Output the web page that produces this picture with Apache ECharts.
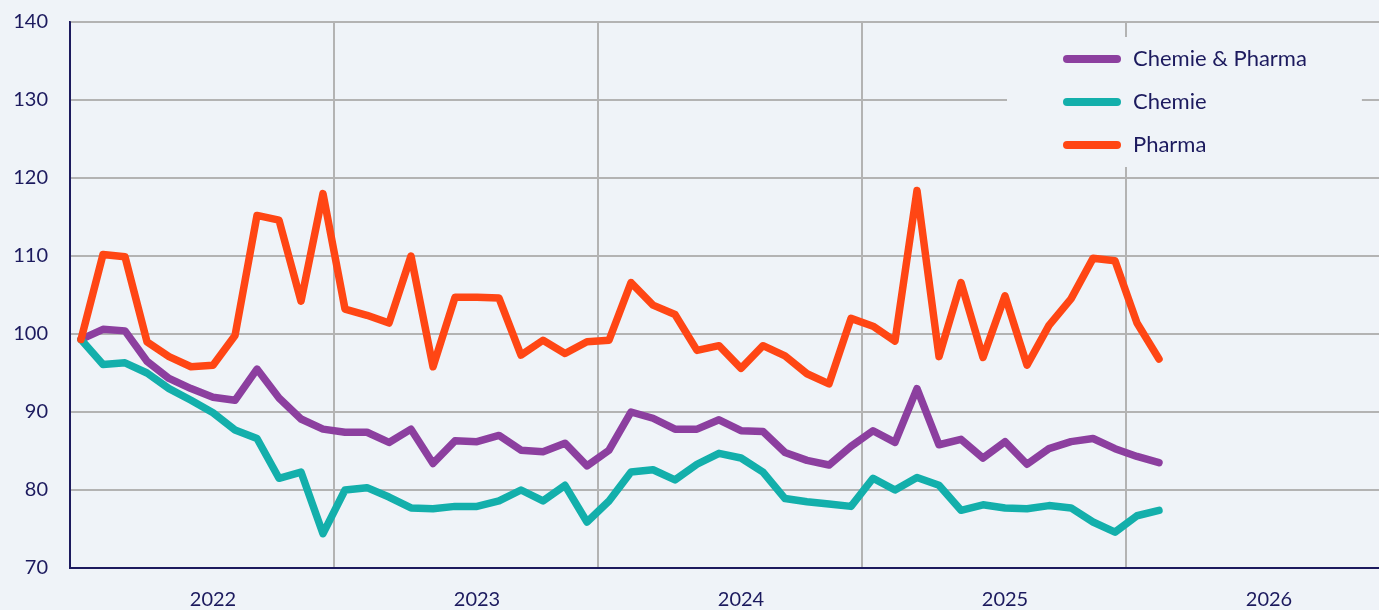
<!DOCTYPE html>
<html>
<head>
<meta charset="utf-8">
<script src="https://cdn.jsdelivr.net/npm/echarts@6/dist/echarts.min.js"></script>
<style>
  html, body { margin: 0; padding: 0; background: #eff3f8; overflow: hidden; }
  #chart { width: 1392px; height: 610px; }
</style>
</head>
<body>
<div id="chart"></div>
<script>
// monthly categories Jan 2022 .. Dec 2026
const months = []
for (let y = 2022; y <= 2026; y++) {
  for (let m = 1; m <= 12; m++) months.push(y + '-' + (m < 10 ? '0' + m : m))
}

const chemiePharma = [
  99.3, 100.6, 100.4, 96.5, 94.3, 93.0, 91.9, 91.5, 95.5, 91.8, 89.1, 87.8,
  87.4, 87.4, 86.1, 87.8, 83.4, 86.3, 86.2, 87.0, 85.1, 84.9, 86.0, 83.1,
  85.1, 90.0, 89.2, 87.8, 87.8, 89.0, 87.6, 87.5, 84.8, 83.8, 83.2, 85.6,
  87.6, 86.1, 93.0, 85.8, 86.5, 84.1, 86.2, 83.3, 85.3, 86.2, 86.6, 85.3,
  84.3, 83.5
]
const chemie = [
  99.3, 96.1, 96.3, 95.0, 93.0, 91.5, 89.9, 87.7, 86.6, 81.5, 82.3, 74.4,
  80.0, 80.3, 79.1, 77.7, 77.6, 77.9, 77.9, 78.6, 80.0, 78.6, 80.6, 75.9,
  78.6, 82.3, 82.6, 81.3, 83.3, 84.7, 84.1, 82.3, 78.9, 78.5, 78.2, 77.9,
  81.5, 80.0, 81.6, 80.6, 77.4, 78.1, 77.7, 77.6, 78.0, 77.7, 75.9, 74.6,
  76.7, 77.4
]
const pharma = [
  99.3, 110.2, 109.9, 99.0, 97.1, 95.8, 96.0, 99.8, 115.2, 114.6, 104.2, 118.0,
  103.2, 102.4, 101.4, 110.0, 95.8, 104.7, 104.7, 104.6, 97.3, 99.2, 97.5, 99.0,
  99.2, 106.6, 103.7, 102.5, 97.9, 98.5, 95.6, 98.5, 97.2, 94.9, 93.6, 102.0,
  101.0, 99.1, 118.4, 97.1, 106.6, 97.0, 104.9, 96.0, 101.1, 104.5, 109.7, 109.4,
  101.4, 96.8
]

const navy = '#1c1a5e'
const gridGrey = '#b3b3b3'
const bg = '#eff3f8'
const font = 'Lato'

function lineIcon() {
  return 'path://M4,0 L54,0 A4,4 0 0 1 54,8 L4,8 A4,4 0 0 1 4,0 Z'
}

function makeSeries(name, data, color) {
  return {
    name: name,
    type: 'line',
    data: data,
    symbol: 'none',
    smooth: false,
    color: color,
    lineStyle: { width: 7.5, color: color, cap: 'round', join: 'round' }
  }
}

const chart = echarts.init(document.getElementById('chart'))
chart.setOption({
  backgroundColor: bg,
  animation: false,
  textStyle: { fontFamily: font },
  grid: {
    left: 70, top: 22, width: 1320, height: 546,
    show: true, borderColor: navy, borderWidth: 2, backgroundColor: bg
  },
  legend: {
    left: 1007, top: 37,
    orient: 'vertical',
    backgroundColor: bg,
    padding: [11, 55, 11, 56],
    itemWidth: 58, itemHeight: 8, itemGap: 21,
    icon: lineIcon(),
    textStyle: { color: navy, fontSize: 22, fontFamily: font, lineHeight: 20, padding: [0, 0, 0, 7] },
    data: ['Chemie & Pharma', 'Chemie', 'Pharma']
  },
  xAxis: {
    type: 'category',
    data: months,
    boundaryGap: true,
    axisLine: { lineStyle: { color: navy, width: 2 } },
    axisTick: { show: false },
    axisLabel: {
      interval: (i) => i % 12 === 6,
      formatter: (v) => v.slice(0, 4),
      color: navy, fontSize: 20, margin: 22, fontFamily: font
    },
    splitLine: {
      show: true,
      interval: (i) => i % 12 === 0,
      lineStyle: { color: gridGrey, width: 2 }
    }
  },
  yAxis: {
    type: 'value',
    min: 70, max: 140, interval: 10,
    axisLine: { show: true, lineStyle: { color: navy, width: 2 } },
    axisTick: { show: false },
    axisLabel: { color: navy, fontSize: 20, margin: 22, fontFamily: font },
    splitLine: { lineStyle: { color: gridGrey, width: 2 } }
  },
  series: [
    makeSeries('Chemie & Pharma', chemiePharma, '#8c3f9f'),
    makeSeries('Chemie', chemie, '#13afab'),
    makeSeries('Pharma', pharma, '#ff4614')
  ]
})
</script>
</body>
</html>
